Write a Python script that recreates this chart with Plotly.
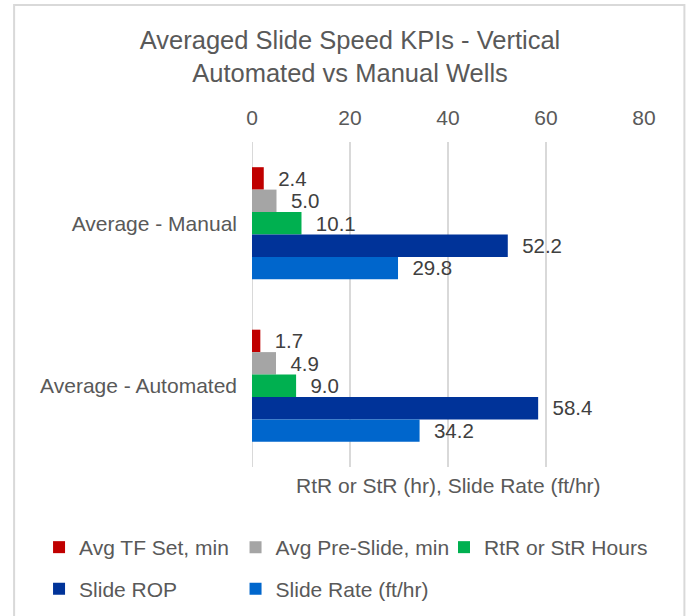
import plotly.graph_objects as go

categories = ["Average - Manual", "Average - Automated"]
series_names = ["Avg TF Set, min", "Avg Pre-Slide, min", "RtR or StR Hours", "Slide ROP", "Slide Rate (ft/hr)"]
tf_set = [2.4, 1.7]
pre_slide = [5.0, 4.9]
rtr_str = [10.1, 9.0]
slide_rop = [52.2, 58.4]
slide_rate = [29.8, 34.2]
colors = ["#C00000", "#A5A5A5", "#00B050", "#003399", "#0066CC"]
x_ticks = [0, 20, 40, 60, 80]

values = [tf_set, pre_slide, rtr_str, slide_rop, slide_rate]
legend_ids = ["legend", "legend2", "legend3", "legend4", "legend5"]
FONT = "Liberation Sans, Arial, sans-serif"
FS = 21

fig = go.Figure()
for name, vals, col, lg in zip(series_names, values, colors, legend_ids):
    fig.add_trace(go.Bar(
        y=categories, x=vals, name=name, orientation="h",
        marker=dict(color=col, line=dict(width=0)),
        text=["\u00a0\u00a0" + f"{v:.1f}" for v in vals], textposition="outside",
        textfont=dict(size=FS, color="#404040", family=FONT),
        cliponaxis=False, legend=lg,
    ))

W, H = 689, 616
L, R, T, B = 251.5, 44.5, 142, 149
PW, PH = W - L - R, H - T - B
px = lambda x: (x - L) / PW
py = lambda y: (H - B - y) / PH

legend_common = dict(orientation="h", xanchor="left", yanchor="middle",
                     itemwidth=30,
                     font=dict(size=FS, color="#595959", family=FONT),
                     bgcolor="rgba(0,0,0,0)")
# legend item pixel anchors (left edge of legend box), row centres
leg_pos = {
    "legend": (38, 547.5),
    "legend2": (235, 547.5),
    "legend3": (444, 547.5),
    "legend4": (38, 589),
    "legend5": (235, 589),
}

fig.update_layout(
    width=W, height=H,
    margin=dict(l=L, r=R, t=T, b=B, autoexpand=False),
    paper_bgcolor="white", plot_bgcolor="white",
    barmode="group", bargap=0.31, bargroupgap=0,
    font=dict(family=FONT, color="#595959", size=FS),
    title=dict(text="Averaged Slide Speed KPIs - Vertical<br>Automated vs Manual Wells",
               x=350 / W, xanchor="center", y=1 - 49 / H, yanchor="middle",
               font=dict(size=25.5, color="#595959", family=FONT)),
    xaxis=dict(side="top", range=[0, 80], tickvals=x_ticks, showgrid=True,
               gridcolor="#D9D9D9", gridwidth=2, zeroline=False, showline=False,
               ticks="", ticklabelstandoff=12,
               tickfont=dict(size=FS, color="#595959", family=FONT)),
    yaxis=dict(autorange="reversed", showgrid=False, zeroline=False, showline=False,
               ticks="", ticklabelstandoff=14,
               tickfont=dict(size=FS, color="#595959", family=FONT)),
    showlegend=True,
)
for lid, (lx, ly) in leg_pos.items():
    fig.update_layout({lid: dict(x=px(lx), y=py(ly), **legend_common)})

# zero gridline
fig.add_shape(type="line", xref="x", yref="paper", x0=0, x1=0, y0=0, y1=1,
              line=dict(color="#D9D9D9", width=2), layer="below")
# axis title (below plot)
fig.add_annotation(text="RtR or StR (hr), Slide Rate (ft/hr)", xref="paper", yref="paper",
                   x=px(448), y=py(485), showarrow=False, xanchor="center", yanchor="middle",
                   font=dict(size=FS, color="#595959", family=FONT))
# chart border
fig.add_shape(type="rect", xref="paper", yref="paper",
              x0=px(13), x1=px(685), y0=py(625), y1=py(5),
              line=dict(color="#D9D9D9", width=2), fillcolor="rgba(0,0,0,0)")

fig.write_html("out.html", config={"displayModeBar": False},
               post_script="document.body.style.margin='0';")
